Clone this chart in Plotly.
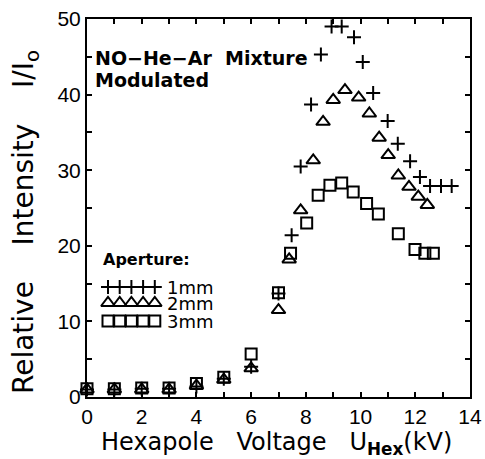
import plotly.graph_objects as go

# ---- data ----
x_1mm = [0, 1, 2, 3, 4, 5, 6, 7, 7.48, 7.81, 8.19, 8.55, 8.94, 9.31, 9.76, 10.08,
         10.46, 10.99, 11.36, 11.81, 12.17, 12.54, 12.94, 13.33]
y_1mm = [1.0, 1.0, 1.1, 1.1, 1.4, 2.4, 4.0, 13.7, 21.4, 30.5, 38.7, 45.3, 49.0, 49.0,
         47.6, 44.3, 40.2, 36.5, 33.5, 31.2, 29.1, 27.9, 27.9, 27.9]

x_2mm = [0, 1, 2, 3, 4, 5, 6, 7, 7.39, 7.81, 8.27, 8.63, 9.0, 9.43, 9.93, 10.32,
         10.68, 11.01, 11.38, 11.77, 12.11, 12.44]
y_2mm = [1.0, 1.0, 1.0, 1.0, 1.5, 2.3, 3.8, 11.5, 18.2, 24.7, 31.3, 36.4, 39.3, 40.6,
         39.6, 37.5, 34.3, 32.0, 29.3, 27.8, 26.5, 25.4]

x_3mm = [0, 1, 2, 3, 4, 5, 6, 7, 7.44, 8.03, 8.45, 8.88, 9.31, 9.73, 10.22, 10.65,
         11.38, 11.99, 12.35, 12.66]
y_3mm = [1.1, 1.1, 1.2, 1.2, 1.8, 2.6, 5.7, 13.8, 19.0, 23.0, 26.7, 28.0, 28.3, 27.1,
         25.6, 24.2, 21.6, 19.5, 19.0, 19.0]

series_names = ["1mm", "2mm", "3mm"]
x_ticks = list(range(0, 15))
x_ticktext = [str(v) if v % 2 == 0 else "" for v in x_ticks]
y_ticks = list(range(0, 55, 5))
y_ticktext = [str(v) if v % 10 == 0 else "" for v in y_ticks]
x_title = "Hexapole   Voltage   U<sub><b>Hex</b></sub>(kV)"
y_title = "Relative    Intensity    I/I<sub>o</sub>"

# ---- layout geometry (pixels) ----
W, H = 485, 459
ML, MR, MT, MB = 87, 15, 19, 62
PW, PH = W - ML - MR, H - MT - MB


def px(xp):
    return (xp - ML) / PW


def py(yp):
    return (H - MB - yp) / PH


FONT = "Liberation Sans, Arial, sans-serif"
WIDE = "DejaVu Sans, Verdana, sans-serif"
BLACK = "black"

styles = [
    dict(symbol="cross-thin", size=10, line=dict(width=2, color=BLACK), color=BLACK),
    dict(symbol="triangle-up-open", size=12, line=dict(width=2, color=BLACK), color=BLACK),
    dict(symbol="square-open", size=11, line=dict(width=2, color=BLACK), color=BLACK),
]

fig = go.Figure()
for xs, ys, name, st in zip([x_1mm, x_2mm, x_3mm], [y_1mm, y_2mm, y_3mm], series_names, styles):
    fig.add_trace(go.Scatter(x=xs, y=ys, mode="markers", name=name, marker=st,
                             showlegend=False, cliponaxis=False))

# legend samples (5 symbols per row) drawn on a hidden pixel-unit overlay axis
leg_rows_y = [287, 303, 321]
leg_x0, leg_dx, leg_n = 108, 11.7, 5
for st, ry, name in zip(styles, leg_rows_y, series_names):
    xs = [leg_x0 - ML + i * leg_dx for i in range(leg_n)]
    fig.add_trace(go.Scatter(x=xs, y=[H - MB - ry] * leg_n, mode="markers", marker=st,
                             xaxis="x2", yaxis="y2", showlegend=False, hoverinfo="skip",
                             cliponaxis=False))

axis_common = dict(showline=True, linecolor=BLACK, linewidth=2, mirror="ticks",
                   ticks="inside", ticklen=5, tickwidth=1.5, tickcolor=BLACK,
                   showgrid=False, zeroline=False, automargin=False,
                   tickfont=dict(family=FONT, size=21, color=BLACK))

fig.update_layout(
    width=W, height=H,
    margin=dict(l=ML, r=MR, t=MT, b=MB, autoexpand=False),
    paper_bgcolor="white", plot_bgcolor="white",
    xaxis=dict(range=[0, 14], tickmode="array", tickvals=x_ticks, ticktext=x_ticktext,
               **axis_common),
    yaxis=dict(range=[0, 50], tickmode="array", tickvals=y_ticks, ticktext=y_ticktext,
               **axis_common),
    xaxis2=dict(range=[0, PW], overlaying="x", visible=False, fixedrange=True),
    yaxis2=dict(range=[0, PH], overlaying="y", visible=False, fixedrange=True),
    showlegend=False,
)

annotations = [
    dict(text=x_title, x=px(276), y=py(443), xanchor="center", yanchor="middle",
         font=dict(family=WIDE, size=24, color=BLACK)),
    dict(text=y_title, x=px(26), y=py(222), xanchor="center", yanchor="middle", textangle=-90,
         font=dict(family=WIDE, size=28, color=BLACK)),
    dict(text="<b>NO−He−Ar  Mixture</b>", x=px(93), y=py(58), xanchor="left", yanchor="middle",
         font=dict(family=WIDE, size=19, color=BLACK)),
    dict(text="<b>Modulated</b>", x=px(93), y=py(80), xanchor="left", yanchor="middle",
         font=dict(family=WIDE, size=19, color=BLACK)),
    dict(text="<b>Aperture:</b>", x=px(101), y=py(259), xanchor="left", yanchor="middle",
         font=dict(family=WIDE, size=16, color=BLACK)),
]
for ry, name in zip(leg_rows_y, series_names):
    annotations.append(dict(text=name, x=px(165), y=py(ry), xanchor="left", yanchor="middle",
                            font=dict(family=WIDE, size=18, color=BLACK)))
for a in annotations:
    a.update(xref="paper", yref="paper", showarrow=False)
fig.update_layout(annotations=annotations)

fig.write_html("out.html")
